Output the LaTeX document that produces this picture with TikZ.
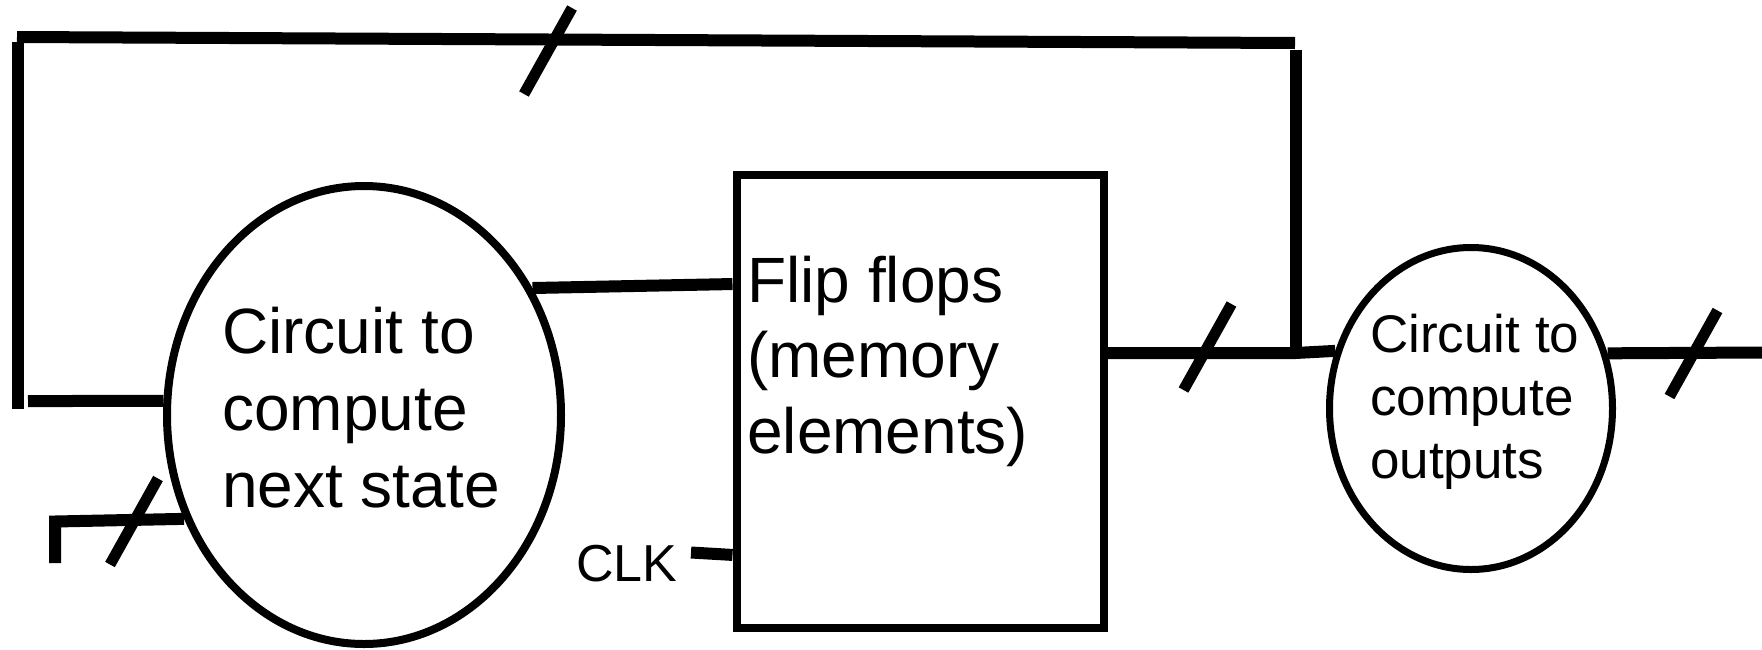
\documentclass[tikz,border=0pt]{standalone}
\usepackage{fontspec}
\setmainfont{Liberation Sans}
\usetikzlibrary{shapes.geometric,calc}

% bus-width marker: a short slanted stroke across a wire
\newcommand\busslash[1]{\draw[busmark] ($(#1)+(-24,43)$) -- ($(#1)+(24,-43)$);}

\begin{document}
\begin{tikzpicture}[x=1pt,y=-1pt,
  wire/.style={line width=12pt, line cap=butt, line join=miter},
  busmark/.style={line width=11pt, line cap=butt},
  blob/.style={ellipse, draw, line width=8pt, inner sep=0pt},
  regbox/.style={rectangle, draw, line width=8pt, inner sep=0pt},
  bigtext/.style={anchor=base west, inner sep=0pt, font=\fontsize{64}{76}\selectfont},
  smalltext/.style={anchor=base west, inner sep=0pt, font=\fontsize{53}{63}\selectfont},
]
\useasboundingbox (0,0) rectangle (1762,649);

% blocks
\node[blob, minimum width=394pt, minimum height=458pt] (ns) at (364,415) {};
\node[regbox, minimum width=367.5pt, minimum height=453.5pt] (ff) at (920.25,401.25) {};
\node[blob, line width=7pt, minimum width=283pt, minimum height=322pt] (out) at (1471,408.5) {};

% block texts
\node[bigtext] (ns1) at (222,353) {Circuit to};
\node[bigtext] (ns2) at (222,430) {compute};
\node[bigtext] (ns3) at (222,507) {next state};
\node[bigtext] (ff1) at (747,302) {Flip flops};
\node[bigtext] (ff2) at (747,377) {(memory};
\node[bigtext] (ff3) at (747,453) {elements)};
\node[smalltext] (out1) at (1370,352) {Circuit to};
\node[smalltext] (out2) at (1370,415) {compute};
\node[smalltext] (out3) at (1370,478) {outputs};
\node[anchor=base west, inner sep=0pt, font=\fontsize{52}{60}\selectfont] (clk) at (576,581) {CLK};

% free ends and corners of the wires
\coordinate (J) at (1295.5,353);
\coordinate (fbRT) at (1295.5,50);
\coordinate (topR) at (1295,43);
\coordinate (topL) at (17,37);
\coordinate (fbLT) at (17.5,42);
\coordinate (fbLB) at (17.5,409);
\coordinate (stubL) at (28,401);
\coordinate (inTip) at (55,563);
\coordinate (inCorner) at (55,521.5);
\coordinate (clkEnd) at (691,552.5);
\coordinate (outEnd) at (1762,352.5);

% wires
\draw[wire] ($(ff.north east)!0.3955!(ff.south east)$) -- (J) -- (out.157.9);
\draw[wire] (J) -- (fbRT);
\draw[wire] (topR) -- (topL);
\draw[wire] (fbLT) -- (fbLB);
\draw[wire] (stubL) -- (ns.176);
\draw[wire] (inTip) -- (inCorner) -- (ns.210.75);
\draw[wire] (ns.37) -- ($(ff.north west)!0.246!(ff.south west)$);
\draw[wire] (clkEnd) -- ($(ff.north west)!0.833!(ff.south west)$);
\draw[wire] (out.22.1) -- (outEnd);

% bus markers
\coordinate (s1) at (548,51);
\coordinate (s2) at (1207.5,347);
\coordinate (s3) at (1693.5,353.5);
\coordinate (s4) at (134,521.5);
\busslash{s1}
\busslash{s2}
\busslash{s3}
\busslash{s4}
\end{tikzpicture}
\end{document}
